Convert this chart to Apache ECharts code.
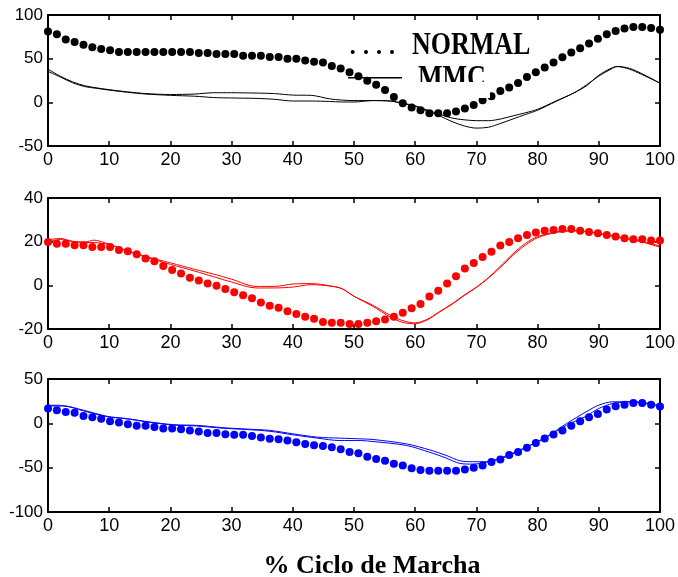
<!DOCTYPE html>
<html><head><meta charset="utf-8">
<script src="https://cdn.jsdelivr.net/npm/echarts@6/dist/echarts.min.js"></script>
<style>html,body{margin:0;padding:0;background:#fff}#c{width:678px;height:577px}</style>
</head><body><div id="c"></div>
<script>
// ---- data ----
const xTicks = [0,10,20,30,40,50,60,70,80,90,100];
const nDots = 70; // NORMAL curves sampled over % gait cycle
const dotX = Array.from({length:nDots},(_,i)=>i*100/(nDots-1));

const topDots = [81,78,72,69,66,63,61,59.5,57.5,57.5,57.5,57.5,57.5,57.5,57.5,57.5,57.5,56.4,56.4,55.3,55.3,55.3,53.4,53.4,53.4,52,52,50,50,48,46.6,45.5,41.7,38.6,34.5,30,24.6,20,14,6,-1,-6,-9,-12.5,-12.5,-12.5,-10.6,-7,-3,2.3,7,13,17,22,29,34.5,40,45.5,51.5,57,62,67.4,72.7,78,81.8,84.5,86.4,86.4,85,83];
const midDots = [19.9,19,19,18.4,18.4,17.6,17.6,17.6,16.2,15.6,14.2,12.3,11,8.8,7,5.4,3.5,2.2,0.8,-0.2,-1.7,-3.2,-4.5,-5.9,-7.9,-9.3,-10.3,-11.9,-13.1,-14.4,-15.3,-16.8,-17.1,-17.1,-17.7,-17.7,-17.1,-16.5,-15.6,-14.4,-12.5,-10.5,-8.5,-5.1,-2.5,0.8,4.2,7.7,10.2,13,15.4,18.2,19.9,21.6,23,24.2,25,25.3,25.8,25.8,25,24.4,23.8,23,22.4,21.6,21.1,21.1,20.5,20.5];
const botDots = [16.7,14.8,12.9,11.8,8.4,6.8,5.3,2.3,0.8,-1.1,-2.7,-2.7,-4.2,-5.7,-5.7,-6.8,-8,-9.1,-11,-11,-12.2,-12.9,-12.9,-14.4,-16,-17.5,-17.9,-19.4,-21.3,-23.2,-24.7,-25.5,-27,-29.3,-32.3,-33.8,-37.6,-40.3,-42.2,-45.6,-47.5,-50.6,-52.5,-53.6,-53.6,-53.6,-53.6,-52.1,-50.2,-47.5,-43.7,-40.7,-35.7,-32.3,-27.4,-22.1,-17.1,-12.5,-8,-2.7,2.3,6.8,10.6,15.6,19.4,20.9,22.8,22.8,20.9,19];

const topLineX = [0,2,4,6,8,10,13,16,20,24,27,30,34,37,40,43,46,48,50,53,56,58,60,62,64,66,68,70,72,74,76,78,80,83,86,88,90,92,93,95,97,100];
const topA = [38,30,23.5,19,16.5,14.5,12,10,9,9.5,11,11,10.6,10,8.3,8,4,2.6,2,2,1.5,-1,-4,-9,-13.6,-18,-20,-21,-21,-19,-15.5,-12,-8,1.5,11,20,30,38,41,39,33,22];
const topB = [35.5,29,22.5,18,16,14,11.5,9.5,8,7,5.5,5,4.5,3.5,1.5,1.5,1,0.4,0.4,2,1.5,-1.5,-4.5,-10,-15.5,-22,-27,-29.5,-28.5,-24,-19,-14,-9,1,11,19,31,39,41,38,32,22];

const midLineX = [0,2,4,6,7.5,10,13,16,20,24,27,30,34,37,40,43,46,48,50,53,56,58,60,62,64,66,68,70,72,74,76,78,80,83,86,89,92,95,97,100];
const midA = [20.8,21.5,20.2,19.8,20.7,18.8,15.8,13.2,10.3,7.3,5.2,2.8,-0.5,-0.5,0.6,0.8,-0.2,-1.5,-5,-9,-13.8,-16.2,-17.2,-15.5,-12,-8.5,-4.5,-0.8,3.6,9,14.5,19.2,22.3,24.5,25,24.2,22.7,21.3,20.2,18];
const midB = [20,21,20,19.6,19.6,18.6,15.6,13,9.6,6.5,4,1.5,-1.2,-1.2,-0.8,0.3,-0.3,-1.5,-5,-9.5,-14.6,-17,-17.6,-15.8,-12.2,-8.7,-4.7,-1,3.4,8.4,13.8,18.4,21.8,24.2,25,24.2,22.7,21.1,19.9,17.5];

const botLineX = [0,2.5,5.8,9.6,12.9,16.7,20.5,24.3,28.6,32.5,36.3,40,44,47.7,51,53.1,58.6,62.4,65,67.3,69.4,71.6,74.9,78.1,81.4,84.7,87.9,90,92.3,95.5,100];
const botA = [20.5,20,14.8,8,5.3,1.5,-1.5,-2.3,-4.9,-6.5,-8,-11.8,-15.6,-16.7,-17.5,-18.2,-23.2,-30,-36,-42.2,-43.3,-43.3,-36.5,-27,-15.6,-0.4,12.9,20.5,24.3,24.3,20.5];
const botB = [19.5,19.5,14,7.5,5,1,-2,-3,-5.5,-7,-9,-12.9,-16.7,-19.4,-19.4,-20.5,-25,-32.7,-39,-45.2,-46,-44,-37.6,-27,-15.6,-2.3,8,16.7,22.4,24.3,18.6];

const yMin = [-50,-20,-100];
const yMax = [100,40,50];
const yStep = [50,20,50];

const legendNames = ['NORMAL','MMC'];
const xTitle = '% Ciclo de Marcha';

// ---- chart ----
const panels = [
  {dots:topDots, lx:topLineX, a:topA, b:topB, color:'#000000'},
  {dots:midDots, lx:midLineX, a:midA, b:midB, color:'#ff0000'},
  {dots:botDots, lx:botLineX, a:botA, b:botB, color:'#0000ff'}
];
const gridPos = [{top:15,height:131},{top:198,height:131},{top:379,height:133}];
const axisLineStyle = {color:'#000',width:2};
const tickStyle = {color:'#000',width:1.5};
const grid = gridPos.map(g=>({left:48,right:17,top:g.top,height:g.height}));
const xAxis = [], yAxis = [];
['bottom','top'].forEach(pos=>{
  for(let i=0;i<3;i++){
    xAxis.push({gridIndex:i,type:'value',min:xTicks[0],max:xTicks[xTicks.length-1],interval:10,position:pos,
      axisLine:{show:true,onZero:false,lineStyle:axisLineStyle},
      axisTick:{show:true,inside:true,length:5,lineStyle:tickStyle},
      axisLabel:{show:pos==='bottom',color:'#000',fontSize:18,fontFamily:'Liberation Sans, Arial',margin:5},
      splitLine:{show:false}});
  }
});
['left','right'].forEach(pos=>{
  for(let i=0;i<3;i++){
    yAxis.push({gridIndex:i,type:'value',min:yMin[i],max:yMax[i],interval:yStep[i],position:pos,
      axisLine:{show:true,onZero:false,lineStyle:axisLineStyle},
      axisTick:{show:true,inside:true,length:5,lineStyle:tickStyle},
      axisLabel:{show:pos==='left',color:'#000',fontSize:17,fontFamily:'Liberation Sans, Arial',margin:5},
      splitLine:{show:false}});
  }
});
const series = [];
panels.forEach((p,i)=>{
  [p.a,p.b].forEach((arr,k)=>{
    series.push({type:'line',xAxisIndex:i,yAxisIndex:i,name:legendNames[1]+k,
      data:p.lx.map((x,j)=>[x,arr[j]]),showSymbol:false,smooth:0.3,
      lineStyle:{color:p.color,width:1},silent:true,animation:false});
  });
  series.push({type:'scatter',xAxisIndex:i,yAxisIndex:i,name:legendNames[0],
    data:dotX.map((x,j)=>[x,p.dots[j]]),symbol:'circle',symbolSize:8,
    itemStyle:{color:p.color,opacity:1},silent:true,animation:false,z:3});
});
const serif = 'Liberation Serif, Times New Roman, serif';
const graphic = [
  // legend: dotted marker
  ...[352.7,366,379,392].map(x=>({type:'circle',shape:{cx:x,cy:52,r:2},style:{fill:'#000'},z:10})),
  {type:'text',x:412,y:62,scaleY:1.2,style:{x:0,y:0,text:legendNames[0],font:'bold 26px '+serif,fill:'#000',verticalAlign:'bottom'},z:10},
  {type:'line',shape:{x1:348,y1:77.7,x2:402,y2:77.7},style:{stroke:'#000',lineWidth:1.5},z:10},
  {type:'text',x:418,y:95,scaleY:1.2,style:{x:0,y:0,text:legendNames[1],font:'bold 26px '+serif,fill:'#000',verticalAlign:'bottom'},z:10},
  {type:'rect',shape:{x:414,y:82,width:76,height:16},style:{fill:'#fff'},z:11},
  {type:'text',x:372,y:566,style:{x:0,y:0,text:xTitle,font:'bold 26px '+serif,fill:'#000',align:'center',verticalAlign:'middle'},z:10}
];
const chart = echarts.init(document.getElementById('c'),null,{renderer:'canvas'});
chart.setOption({animation:false,grid,xAxis,yAxis,series,graphic});
</script>
</body></html>
